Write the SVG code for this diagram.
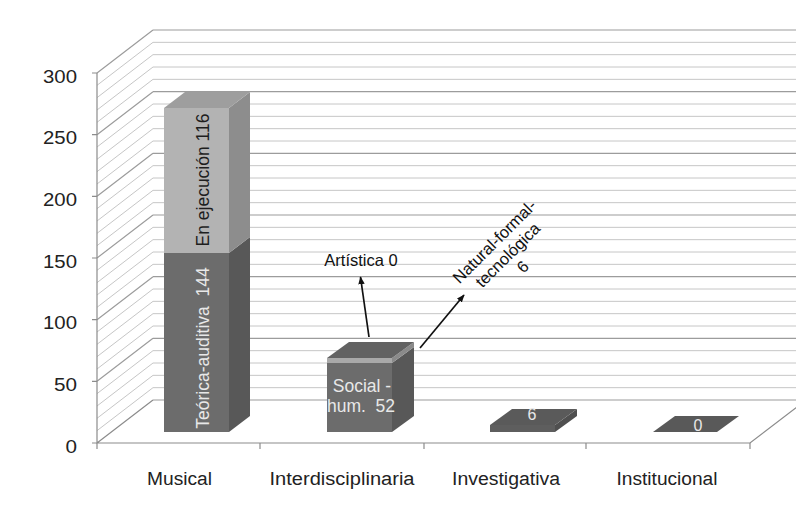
<svg xmlns="http://www.w3.org/2000/svg" width="796" height="505" viewBox="0 0 796 505">
  <defs>
    <style>
      text { font-family: "Liberation Sans", Arial, sans-serif; }
      .minor { stroke: #c6c6c6; stroke-width: 1; fill: none; }
      .major { stroke: #9c9c9c; stroke-width: 1.2; fill: none; }
      .axis { stroke: #8c8c8c; stroke-width: 1.2; fill: none; }
      .ylab { font-size: 18px; fill: #222; text-anchor: end; }
      .xlab { font-size: 18px; fill: #222; text-anchor: middle; }
      .inlab { font-size: 17.5px; text-anchor: middle; }
      .light { fill: #e8e8e8; }
      .dark { fill: #1e1e1e; }
      .callout { font-size: 16.5px; fill: #111; text-anchor: middle; }
      .conn { stroke: #111; stroke-width: 1.7; fill: none; marker-end: url(#head); }
    </style>
    <marker id="head" viewBox="0 0 10 10" refX="9" refY="5" markerWidth="8" markerHeight="8" orient="auto" markerUnits="userSpaceOnUse">
      <path d="M0,1 L10,5 L0,9 z" fill="#111"/>
    </marker>
  </defs>

  <rect width="796" height="505" fill="#ffffff"/>

  <!-- walls: back wall gridlines every 10 units, side wall diagonals -->
  <g id="grid">
    <path class="minor" d="
      M153 387.67H796 M97 430.67L153 387.67
      M153 375.33H796 M97 418.33L153 375.33
      M153 363H796 M97 406L153 363
      M153 350.67H796 M97 393.67L153 350.67
      M153 326H796 M97 369L153 326
      M153 313.67H796 M97 356.67L153 313.67
      M153 301.33H796 M97 344.33L153 301.33
      M153 289H796 M97 332L153 289
      M153 264.33H796 M97 307.33L153 264.33
      M153 252H796 M97 295L153 252
      M153 239.67H796 M97 282.67L153 239.67
      M153 227.33H796 M97 270.33L153 227.33
      M153 202.67H796 M97 245.67L153 202.67
      M153 190.33H796 M97 233.33L153 190.33
      M153 178H796 M97 221L153 178
      M153 165.67H796 M97 208.67L153 165.67
      M153 141H796 M97 184L153 141
      M153 128.67H796 M97 171.67L153 128.67
      M153 116.33H796 M97 159.33L153 116.33
      M153 104H796 M97 147L153 104
      M153 79.33H796 M97 122.33L153 79.33
      M153 67H796 M97 110L153 67
      M153 54.67H796 M97 97.67L153 54.67
      M153 42.33H796 M97 85.33L153 42.33"/>
    <path class="major" d="
      M153 400H796
      M153 338.33H796 M97 381.33L153 338.33
      M153 276.67H796 M97 319.67L153 276.67
      M153 215H796 M97 258L153 215
      M153 153.33H796 M97 196.33L153 153.33
      M153 91.67H796 M97 134.67L153 91.67
      M153 30H796 M97 73L153 30"/>
  </g>

  <!-- axes, floor edges and ticks -->
  <g id="axes">
    <path class="axis" d="M97 73V443H750L806 400 M97 443L153 400"/>
    <path class="axis" d="M92 73H97 M92 134.67H97 M92 196.33H97 M92 258H97 M92 319.67H97 M92 381.33H97 M92 443H97
                          M97 443V449 M260 443V449 M424 443V449 M586 443V449 M750 443V449"/>
    <text class="ylab" x="77" y="82.5" textLength="34" lengthAdjust="spacingAndGlyphs">300</text>
    <text class="ylab" x="77" y="144" textLength="34" lengthAdjust="spacingAndGlyphs">250</text>
    <text class="ylab" x="77" y="205.5" textLength="34" lengthAdjust="spacingAndGlyphs">200</text>
    <text class="ylab" x="77" y="267.5" textLength="34" lengthAdjust="spacingAndGlyphs">150</text>
    <text class="ylab" x="77" y="329" textLength="34" lengthAdjust="spacingAndGlyphs">100</text>
    <text class="ylab" x="77" y="391" textLength="23" lengthAdjust="spacingAndGlyphs">50</text>
    <text class="ylab" x="77" y="452.5" textLength="11.5" lengthAdjust="spacingAndGlyphs">0</text>
    <text class="xlab" x="179.5" y="485" textLength="65" lengthAdjust="spacingAndGlyphs">Musical</text>
    <text class="xlab" x="342" y="485" textLength="145" lengthAdjust="spacingAndGlyphs">Interdisciplinaria</text>
    <text class="xlab" x="506" y="485" textLength="108" lengthAdjust="spacingAndGlyphs">Investigativa</text>
    <text class="xlab" x="667" y="485" textLength="101" lengthAdjust="spacingAndGlyphs">Institucional</text>
  </g>

  <!-- Musical: stacked 144 + 116 -->
  <g id="bar-musical">
    <rect x="164" y="253" width="65" height="179" fill="#6c6c6c"/>
    <polygon points="229,432 250,416 250,237 229,253" fill="#585858"/>
    <rect x="164" y="108" width="65" height="145" fill="#b3b3b3"/>
    <polygon points="229,253 250,237 250,92 229,108" fill="#8d8d8d"/>
    <polygon points="164,108 185,92 250,92 229,108" fill="#9e9e9e"/>
    <text class="inlab light" transform="translate(209,348) rotate(-90)">Teórica-auditiva&#160; 144</text>
    <text class="inlab dark" transform="translate(209,180) rotate(-90)">En ejecución 116</text>
  </g>

  <!-- Interdisciplinaria: 52 + 0 + 6 -->
  <g id="bar-interdisciplinaria">
    <rect x="327" y="363" width="65" height="69" fill="#6c6c6c"/>
    <rect x="327" y="358" width="65" height="5" fill="#a9a9a9"/>
    <polygon points="392,432 414,416 414,347 392,363" fill="#585858"/>
    <polygon points="392,363 414,347 414,342 392,358" fill="#8a8a8a"/>
    <polygon points="327,358 349,342 414,342 392,358" fill="#626262"/>
    <text class="inlab light" x="362" y="392">Social -</text>
    <text class="inlab light" x="361" y="412">hum.&#160; 52</text>
  </g>

  <!-- Investigativa: 6 -->
  <g id="bar-investigativa">
    <rect x="490" y="425" width="65" height="7" fill="#5e5e5e"/>
    <polygon points="555,432 577,416 577,409 555,425" fill="#4f4f4f"/>
    <polygon points="490,425 512,409 577,409 555,425" fill="#5a5a5a"/>
    <text class="inlab light" x="532" y="420" style="font-size:16px">6</text>
  </g>

  <!-- Institucional: 0 -->
  <g id="bar-institucional">
    <polygon points="653,432 675,416 739,416 717,432" fill="#595959"/>
    <text class="inlab light" x="698" y="431" style="font-size:16px">0</text>
  </g>

  <!-- callouts for the zero-height and thin segments -->
  <g id="callout-artistica">
    <text class="callout" x="361" y="266">Artística 0</text>
  </g>
  <g id="callout-natural">
    <text class="callout" transform="translate(500,244) rotate(-45)">
      <tspan x="0" dy="0">Natural-formal-</tspan>
      <tspan x="0" dy="19">tecnológica</tspan>
      <tspan x="0" dy="19">6</tspan>
    </text>
  </g>

  <g id="connectors">
    <path class="conn" d="M369 337L360.5 277"/>
    <path class="conn" d="M420 348L464 295"/>
  </g>
</svg>
